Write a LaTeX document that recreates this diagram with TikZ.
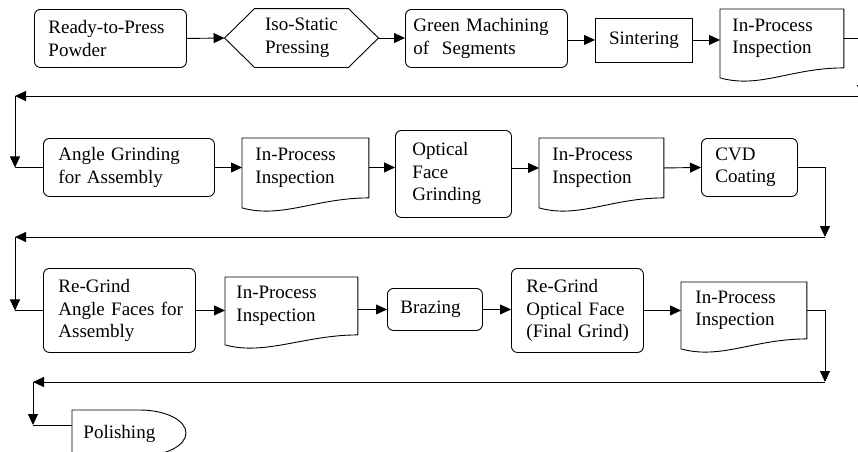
\documentclass[tikz,border=0pt]{standalone}
\usepackage{fontspec}
\setmainfont{Liberation Serif}
\usetikzlibrary{arrows.meta,calc}

\tikzset{
  base/.style={font=\fontsize{19}{22.5}\selectfont, align=left, anchor=north west, inner ysep=0pt, inner xsep=14pt},
  procbox/.style={base, draw, rounded corners=6pt},
  plainbox/.style={base, draw},
  docbox/.style={base},
  flow/.style={-{Triangle[length=11pt,width=10pt]}},
}
\newcommand{\docoutline}[1]{%
  \draw (#1.south east) -- (#1.north east) -- (#1.north west) -- ($(#1.south west)+(0,-10)$)
    .. controls ($(#1.south west)+(40,-21)$) and ($(#1.south east)+(-53,0)$) .. (#1.south east);}

\begin{document}
\begin{tikzpicture}[x=1pt, y=1pt, line width=0.9pt]
  \useasboundingbox (0,0) rectangle (858,-451);
  \clip (0,0) rectangle (858,-451);

  % Row 1
  \node[procbox, text width=124pt, minimum height=58pt] (rdy) at (34,-9) {Ready-to-Press\\Powder};
  \node[base, anchor=center, minimum width=153pt, minimum height=58pt] (iso) at (301.5,-38) {Iso-Static\\Pressing};
  \draw (iso.west) -- ($(iso.north west)+(30,0)$) -- ($(iso.north east)+(-30,0)$) -- (iso.east)
    -- ($(iso.south east)+(-30,0)$) -- ($(iso.south west)+(30,0)$) -- cycle;
  \node[procbox, inner xsep=8pt, text width=146pt, minimum height=58pt] (grn) at (405,-9) {Green Machining\\of\ \ Segments};
  \node[plainbox, align=center, inner xsep=10pt, text width=77pt, minimum height=44pt] (sin) at (595,-17.5) {Sintering};
  \node[docbox, inner xsep=12pt, text width=99pt, minimum height=58pt] (ins1) at (720,-9) {In-Process\\Inspection};
  \docoutline{ins1}

  \draw[flow] (rdy.east) -- (iso.west);
  \draw[flow] (iso.east) -- (iso.east -| grn.west);
  \draw[flow] (grn.east |- sin.west) -- (sin.west);
  \draw[flow] (sin.east) -- (sin.east -| ins1.west);

  % Row 2
  \node[procbox, inner xsep=15pt, text width=141pt, minimum height=58pt] (agr) at (43,-138) {Angle Grinding\\for Assembly};
  \node[docbox, inner xsep=13pt, text width=100pt, minimum height=59pt] (ins2) at (242,-138) {In-Process\\Inspection};
  \docoutline{ins2}
  \node[procbox, inner xsep=17pt, text width=82pt, minimum height=87pt] (opt) at (395,-130) {Optical\\Face\\Grinding};
  \node[docbox, inner xsep=13pt, text width=98pt, minimum height=59pt] (ins3) at (539,-138) {In-Process\\Inspection};
  \docoutline{ins3}
  \node[procbox, text width=68pt, minimum height=58pt] (cvd) at (701,-138) {CVD\\Coating};

  \draw[flow] (agr.east) -- (agr.east -| ins2.west);
  \draw[flow] (agr.east -| ins2.east) -- (agr.east -| opt.west);
  \draw[flow] (ins3.west -| opt.east) -- (ins3.west);
  \draw[flow] (ins3.east) -- (cvd.west);

  % Row 3
  \node[procbox, inner xsep=15pt, text width=122pt, minimum height=84pt] (rga) at (43,-268) {Re-Grind\\\mbox{Angle Faces for}\\Assembly};
  \node[docbox, inner xsep=11pt, text width=110pt, minimum height=57pt] (ins4) at (225,-277) {In-Process\\Inspection};
  \docoutline{ins4}
  \node[procbox, inner xsep=13pt, text width=69pt, minimum height=42pt] (brz) at (387,-288) {Brazing};
  \node[procbox, inner xsep=15pt, text width=102pt, minimum height=84pt] (rgo) at (511,-268) {Re-Grind\\Optical Face\\\mbox{(Final Grind)}};
  \node[docbox, text width=97pt, minimum height=56pt] (ins5) at (681,-282) {In-Process\\Inspection};
  \docoutline{ins5}

  \draw[flow] (rga.east) -- (rga.east -| ins4.west);
  \draw[flow] (brz.west -| ins4.east) -- (brz.west);
  \draw[flow] (brz.east) -- (brz.east -| rgo.west);
  \draw[flow] (rgo.east) -- (ins5.west);

  % Row 4
  \node[docbox, inner xsep=11pt, text width=92pt, minimum height=46pt] (pol) at (72,-410) {Polishing};
  \draw (pol.south west) -- (pol.north west) -- ($(pol.north west)+(68,0)$)
    arc[start angle=90, end angle=-90, x radius=46, y radius=23] -- cycle;

  % Return lines between rows
  \coordinate (e1) at (862,-96);
  \coordinate (w1) at (15,-96);
  \draw[flow] (ins1.east) -| (e1);
  \draw[flow] (e1) -- (w1);
  \draw[flow] (w1) -- (w1 |- agr.west);
  \draw (w1 |- agr.west) -- (agr.west);

  \coordinate (e2) at (825,-237);
  \coordinate (w2) at (15,-237);
  \draw[flow] (cvd.east) -| (e2);
  \draw[flow] (e2) -- (w2);
  \draw[flow] (w2) -- (w2 |- rga.west);
  \draw (w2 |- rga.west) -- (rga.west);

  \coordinate (e3) at (825,-382);
  \coordinate (w3) at (33,-382);
  \coordinate (d3) at (33,-425);
  \draw[flow] (ins5.east) -| (e3);
  \draw[flow] (e3) -- (w3);
  \draw[flow] (w3) -- (d3);
  \draw (d3) -- (d3 -| pol.west);
\end{tikzpicture}
\end{document}
